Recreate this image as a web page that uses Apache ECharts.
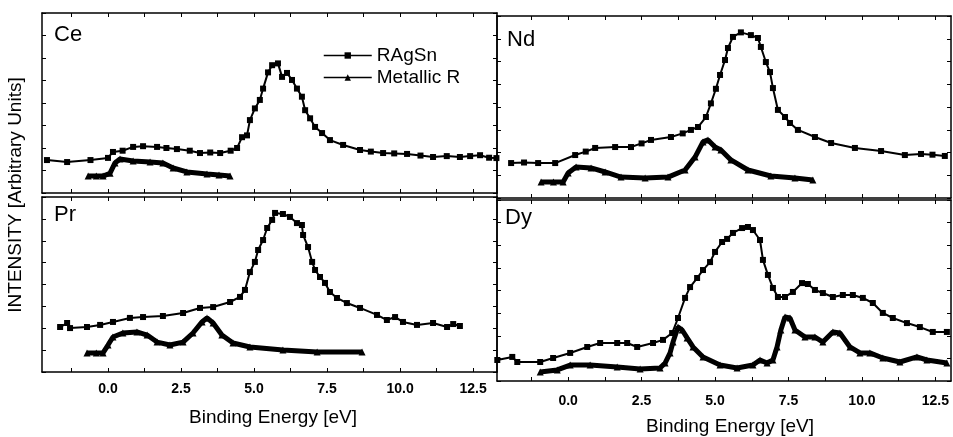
<!DOCTYPE html>
<html>
<head>
<meta charset="utf-8">
<title>RAgSn vs Metallic R</title>
<script src="https://cdn.jsdelivr.net/npm/echarts@6/dist/echarts.min.js"></script>
<style>
  html, body { margin: 0; padding: 0; background: #fff; }
  #chart { width: 953px; height: 437px; }
</style>
</head>
<body>
<div id="chart"></div>
<script>
// binding energy [eV], intensity (arbitrary units, 0-100 per panel)
const ceRAgSn = [[-2.09,18.3],[-1.4,17.2],[-0.6,18.3],[0.0,19.5],[0.17,22.8],[0.5,23.5],[0.86,25.6],[1.2,26],[1.68,25.6],[2.0,25],[2.36,24.4],[2.8,23.5],[3.15,22.2],[3.5,22.5],[3.84,22.2],[4.2,23.5],[4.42,25],[4.59,31],[4.76,32],[4.86,40.5],[5.03,47],[5.2,51.7],[5.31,58],[5.48,67],[5.62,71],[5.82,72],[5.96,64.5],[6.13,66.7],[6.3,62.8],[6.47,58],[6.64,53.5],[6.75,46],[6.92,41.5],[7.09,36.7],[7.33,33.3],[7.6,29.4],[8.05,26.7],[8.63,23.9],[9.0,23],[9.42,22.2],[9.8,22],[10.24,21.7],[10.7,20.8],[11.13,20],[11.6,20.5],[12.05,20],[12.4,20.5],[12.74,21],[13.05,19.6],[13.3,19.4]];
const ceMetal = [[-0.68,9.4],[-0.4,9.4],[-0.17,9.4],[0.07,11],[0.24,16.7],[0.41,18.9],[0.86,17.8],[1.44,17.2],[1.88,16.7],[2.23,13.9],[2.7,11.7],[3.39,10.6],[3.8,10],[4.18,9.4]];

const ndRAgSn = [[-1.94,19.2],[-1.5,19.5],[-1.02,19.2],[-0.44,19.2],[0.24,23.6],[0.6,25.5],[0.92,27.5],[1.6,28],[2.14,28],[2.5,30],[2.82,31.9],[3.5,33.5],[3.9,35.5],[4.18,37.4],[4.42,39],[4.69,44.5],[4.86,52],[5.03,60],[5.17,67.6],[5.34,75.8],[5.44,82.4],[5.61,88.5],[5.88,91],[6.22,89.5],[6.46,87.9],[6.56,83],[6.73,74.7],[6.87,69.2],[6.97,60.4],[7.14,48.4],[7.38,44.5],[7.55,41.2],[7.82,37.4],[8.4,33.5],[8.95,30.2],[9.76,27.5],[10.65,25.8],[11.46,23.6],[12.01,24.2],[12.4,23.8],[12.82,23.1]];
const ndMetal = [[-0.92,8.8],[-0.5,8.8],[-0.17,8.8],[0.0,13.7],[0.27,17],[0.78,16.5],[1.26,14.3],[1.8,11.5],[2.62,11],[3.4,11.5],[3.98,15.4],[4.32,22.5],[4.59,30.8],[4.76,31.9],[5.0,28],[5.2,26.4],[5.54,20.9],[6.12,15.4],[6.9,12.1],[7.72,11],[8.33,9.9]];

const prRAgSn = [[-1.64,25.7],[-1.4,28],[-1.3,25.1],[-0.72,25.7],[-0.27,26.9],[0.17,28.6],[0.75,30.9],[1.2,31.4],[1.88,32],[2.57,33.7],[3.15,36.6],[3.6,37.1],[4.18,40],[4.52,42.9],[4.69,46.9],[4.86,57.1],[5.03,62.9],[5.14,69.7],[5.31,75.4],[5.45,82.3],[5.62,86.9],[5.72,90.9],[5.99,90.3],[6.23,88.6],[6.47,85.1],[6.64,84],[6.68,78.3],[6.85,71.4],[6.99,62.9],[7.09,58.3],[7.26,54.3],[7.43,50.9],[7.6,45.7],[7.84,42.3],[8.18,39.4],[8.63,36.6],[9.21,32.6],[9.55,29.7],[9.83,31.4],[10.1,28.6],[10.58,26.9],[11.13,28],[11.61,25.7],[11.82,27.4],[12.05,26.3]];
const prMetal = [[-0.72,10.9],[-0.4,10.9],[-0.17,10.9],[0.0,15.4],[0.17,20],[0.51,22.3],[0.99,22.9],[1.34,21.1],[1.68,17.1],[2.12,15.4],[2.57,17.1],[2.91,22.3],[3.22,28.6],[3.39,30.9],[3.6,28],[3.9,21.1],[4.28,16.6],[4.86,14.3],[5.99,12.6],[7.16,11.4],[8.7,11.4]];

const dyRAgSn = [[-2.41,11.6],[-1.9,13.3],[-1.73,10.5],[-0.95,10.5],[-0.51,12.7],[0.07,15.5],[0.65,18.8],[1.09,21],[1.67,21],[2.01,21],[2.35,18.8],[2.89,21],[3.23,22.7],[3.54,26.5],[3.74,34.8],[3.98,45.9],[4.15,51.9],[4.39,56.9],[4.59,61.3],[4.83,65.7],[5.0,71.3],[5.24,76.8],[5.41,78.5],[5.61,81.8],[5.92,84.5],[6.12,85.1],[6.29,83.4],[6.53,77.9],[6.63,66.9],[6.8,58.6],[6.97,51.4],[7.14,46.4],[7.38,46.4],[7.65,49.2],[7.96,54.1],[8.16,53.6],[8.4,50.3],[8.67,48.6],[9.01,46.4],[9.35,47.5],[9.69,47.5],[10.03,45.9],[10.37,43.1],[10.71,37.6],[11.05,34.8],[11.53,32],[11.97,29.8],[12.41,27.1],[12.89,27.1]];
const dyMetal = [[-0.95,5],[-0.37,6.1],[0.07,8.8],[0.75,8.8],[1.67,7.7],[2.45,6.6],[3.13,7.2],[3.3,9.9],[3.47,15.5],[3.57,21.5],[3.74,29.8],[3.88,28.2],[4.05,23.8],[4.25,18.8],[4.59,13.3],[5.17,8.8],[5.75,7.2],[6.29,8.8],[6.53,11.6],[6.77,9.9],[6.97,11.6],[7.11,18.8],[7.24,28.2],[7.38,35.4],[7.55,34.8],[7.72,28.2],[8.06,24.3],[8.4,24.3],[8.67,21.5],[9.01,27.1],[9.25,26.5],[9.59,18.8],[9.93,15.5],[10.27,15.5],[10.71,12.7],[11.29,10.5],[11.87,13.3],[12.21,11.6],[12.89,9.9]];

// tick marks every 1.25 eV, labels every 2.5 eV
const xTickValues = [-1.25, 0, 1.25, 2.5, 3.75, 5, 6.25, 7.5, 8.75, 10, 11.25, 12.5];
const xLabelValues = [0, 2.5, 5, 7.5, 10, 12.5];

const FONT = 'Liberation Sans, Arial, sans-serif';

const panels = [
  { name: 'Ce', grid: { left: 42, top: 13, width: 455, height: 180 }, xMin: -2.26, xMax: 13.32, labels: false, rag: ceRAgSn, met: ceMetal, tx: 49, ty: 19 },
  { name: 'Nd', grid: { left: 497, top: 16, width: 454, height: 182 }, xMin: -2.42, xMax: 13.03, labels: false, rag: ndRAgSn, met: ndMetal, tx: 502, ty: 24 },
  { name: 'Pr', grid: { left: 42, top: 197, width: 455, height: 175 }, xMin: -2.26, xMax: 13.32, labels: true, margin: 10, rag: prRAgSn, met: prMetal, tx: 49, ty: 199 },
  { name: 'Dy', grid: { left: 497, top: 200, width: 454, height: 181 }, xMin: -2.42, xMax: 13.03, labels: true, margin: 13, rag: dyRAgSn, met: dyMetal, tx: 500, ty: 202 }
];

const grid = [], xAxis = [], yAxis = [], series = [], title = [];

panels.forEach(function (p, i) {
  grid.push(p.grid);
  title.push({ text: p.name, left: p.tx, top: p.ty, textStyle: { fontSize: 22, fontWeight: 'normal', color: '#000', fontFamily: FONT } });

  const tick = { show: true, inside: true, length: 4, lineStyle: { color: '#000', width: 1 }, customValues: xTickValues };
  const line = { show: true, onZero: false, lineStyle: { color: '#000', width: 1.5 } };
  // bottom
  xAxis.push({
    type: 'value', gridIndex: i, position: 'bottom', min: p.xMin, max: p.xMax,
    axisLine: line, axisTick: tick, splitLine: { show: false },
    axisLabel: {
      show: p.labels, customValues: xLabelValues, margin: p.margin || 8,
      fontSize: 14, fontWeight: 'bold', color: '#000', fontFamily: FONT,
      formatter: function (v) { return v.toFixed(1); }
    }
  });
  // top (frame only)
  xAxis.push({
    type: 'value', gridIndex: i, position: 'top', min: p.xMin, max: p.xMax,
    axisLine: line, axisTick: tick, axisLabel: { show: false }, splitLine: { show: false }
  });

  const ytick = { show: true, inside: true, length: 4, lineStyle: { color: '#000' } };
  yAxis.push({
    type: 'value', gridIndex: i, position: 'left', min: 0, max: 100, interval: 12.5,
    axisLine: line, axisTick: ytick, axisLabel: { show: false }, splitLine: { show: false }
  });
  yAxis.push({
    type: 'value', gridIndex: i, position: 'right', min: 0, max: 100, interval: 12.5,
    axisLine: line, axisTick: ytick, axisLabel: { show: false }, splitLine: { show: false }
  });

  series.push({
    name: 'RAgSn', type: 'line', xAxisIndex: i * 2, yAxisIndex: i * 2,
    data: p.rag, symbol: 'rect', symbolSize: 6, animation: false,
    lineStyle: { color: '#000', width: 2 }, itemStyle: { color: '#000' }
  });
  series.push({
    name: 'Metallic R', type: 'line', xAxisIndex: i * 2, yAxisIndex: i * 2,
    data: p.met, symbol: 'triangle', symbolSize: 7, animation: false,
    lineStyle: { color: '#000', width: 5 }, itemStyle: { color: '#000' }
  });
});

const chart = echarts.init(document.getElementById('chart'));
chart.setOption({
  backgroundColor: '#fff',
  animation: false,
  title: title,
  grid: grid,
  xAxis: xAxis,
  yAxis: yAxis,
  legend: {
    data: ['RAgSn', 'Metallic R'],
    orient: 'vertical', left: 318, top: 41,
    itemWidth: 48, itemHeight: 8, itemGap: 3,
    lineStyle: { width: 1.5, color: '#000' },
    textStyle: { fontSize: 19, color: '#000', fontFamily: FONT }
  },
  graphic: [
    {
      type: 'text', x: 6, y: 195, rotation: Math.PI / 2,
      style: { text: 'INTENSITY [Arbitrary Units]', font: '19px ' + FONT, fill: '#000', textAlign: 'center', textVerticalAlign: 'top' }
    },
    {
      type: 'text', x: 273, y: 418,
      style: { text: 'Binding Energy [eV]', font: '19px ' + FONT, fill: '#000', textAlign: 'center', textVerticalAlign: 'middle' }
    },
    {
      type: 'text', x: 730, y: 427,
      style: { text: 'Binding Energy [eV]', font: '19px ' + FONT, fill: '#000', textAlign: 'center', textVerticalAlign: 'middle' }
    }
  ],
  series: series
});
</script>
</body>
</html>
